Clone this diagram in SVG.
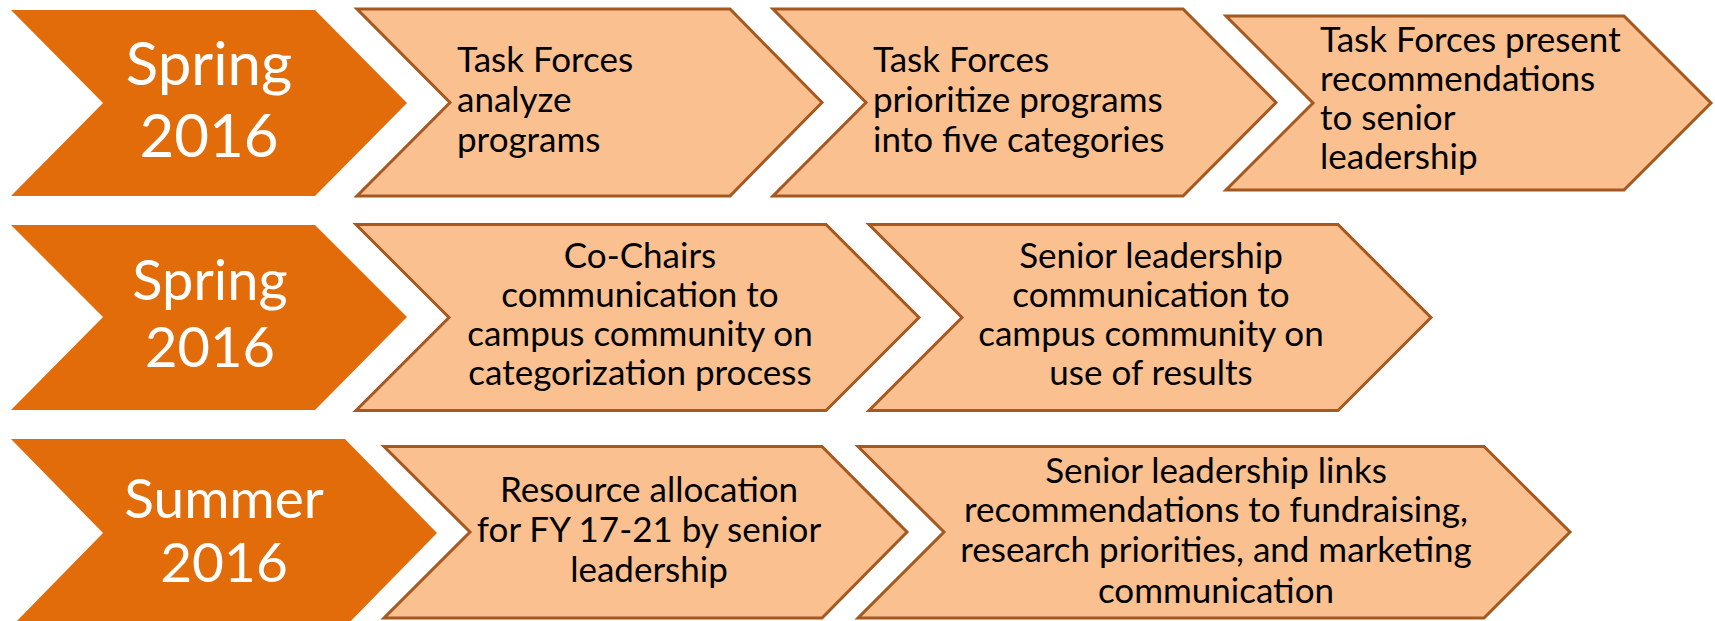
<svg xmlns="http://www.w3.org/2000/svg" width="1715" height="621" viewBox="0 0 1715 621">
<style>
.hd{fill:#E36C0A;stroke:none}
.bx{fill:#FAC090;stroke:#A5581F;stroke-width:3;stroke-linejoin:miter}
.ht{font-family:Lato,"Open Sans",sans-serif;fill:#FFFFFF;text-anchor:middle}
.t{font-family:Lato,"Open Sans",sans-serif;font-size:35px;fill:#000000}
.c{text-anchor:middle}
</style>
<rect x="0" y="0" width="1715" height="621" fill="#FFFFFF"/>
<g id="connectors"></g>
<g id="row1-head">
<polygon class="hd" points="11,10 315,10 407,103 315,196 11,196 103,103"/>
<text class="ht" x="209" font-size="60"><tspan x="209" y="85">Spring</tspan><tspan x="209" y="157">2016</tspan></text>
</g>
<g id="row1-step1">
<polygon class="bx" points="357,9 730,9 822,102.5 730,196 357,196 450,102.5"/>
<text class="t"><tspan x="457" y="72">Task Forces</tspan><tspan x="457" y="112">analyze</tspan><tspan x="457" y="152">programs</tspan></text>
</g>
<g id="row1-step2">
<polygon class="bx" points="773,9 1183,9 1276,102.5 1183,196 773,196 866,102.5"/>
<text class="t"><tspan x="873" y="72">Task Forces</tspan><tspan x="873" y="112">prioritize programs</tspan><tspan x="873" y="152">into five categories</tspan></text>
</g>
<g id="row1-step3">
<polygon class="bx" points="1226,16 1624,16 1711,103 1624,190 1226,190 1313,103"/>
<text class="t"><tspan x="1320" y="52">Task Forces present</tspan><tspan x="1320" y="91">recommendations</tspan><tspan x="1320" y="130">to senior</tspan><tspan x="1320" y="169">leadership</tspan></text>
</g>
<g id="row2-head">
<polygon class="hd" points="11,225 315,225 407,317 315,410 11,410 103,317"/>
<text class="ht" x="210" font-size="56"><tspan x="210" y="300">Spring</tspan><tspan x="210" y="367">2016</tspan></text>
</g>
<g id="row2-step1">
<polygon class="bx" points="356,224.5 826,224.5 919,317.5 826,410.5 356,410.5 449,317.5"/>
<text class="t c"><tspan x="640" y="268">Co-Chairs</tspan><tspan x="640" y="307">communication to</tspan><tspan x="640" y="346">campus community on</tspan><tspan x="640" y="385">categorization process</tspan></text>
</g>
<g id="row2-step2">
<polygon class="bx" points="869,224.5 1338,224.5 1431,317.5 1338,410.5 869,410.5 962,317.5"/>
<text class="t c"><tspan x="1151" y="268">Senior leadership</tspan><tspan x="1151" y="307">communication to</tspan><tspan x="1151" y="346">campus community on</tspan><tspan x="1151" y="385">use of results</tspan></text>
</g>
<g id="row3-head">
<polygon class="hd" points="11,439 345,439 437,533 345,627 11,627 103,533"/>
<text class="ht" x="224" font-size="55"><tspan x="224" y="518">Summer</tspan><tspan x="224" y="582">2016</tspan></text>
</g>
<g id="row3-step1">
<polygon class="bx" points="384,446.5 822,446.5 907,532 822,618 384,618 470,532"/>
<text class="t c"><tspan x="649" y="502">Resource allocation</tspan><tspan x="649" y="542">for FY 17-21 by senior</tspan><tspan x="649" y="582">leadership</tspan></text>
</g>
<g id="row3-step2">
<polygon class="bx" points="858,446.5 1484,446.5 1570,532 1484,618 858,618 944,532"/>
<text class="t c"><tspan x="1216" y="483">Senior leadership links</tspan><tspan x="1216" y="522">recommendations to fundraising,</tspan><tspan x="1216" y="562">research priorities, and marketing</tspan><tspan x="1216" y="603">communication</tspan></text>
</g>
</svg>
